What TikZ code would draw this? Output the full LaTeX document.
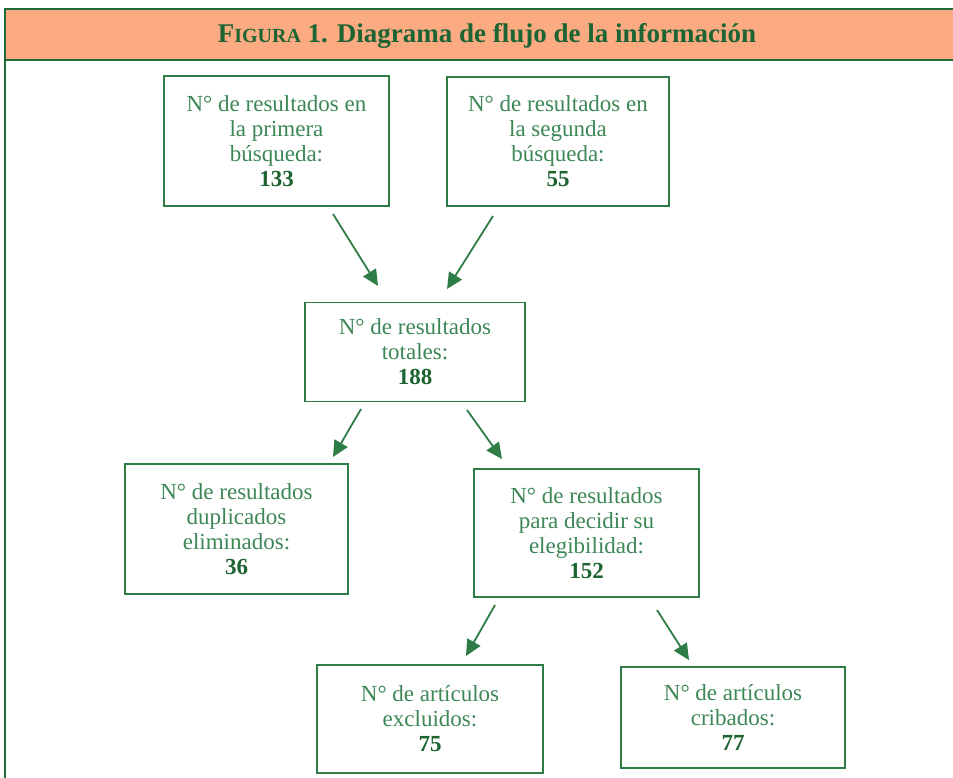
\documentclass[tikz,border=0pt]{standalone}
\usepackage{fontspec}
\setmainfont{Liberation Serif}
\usetikzlibrary{arrows.meta}
\definecolor{framegreen}{RGB}{31,104,56}
\definecolor{titlegreen}{RGB}{28,100,50}
\definecolor{boxgreen}{RGB}{46,125,70}
\definecolor{txtgreen}{RGB}{60,135,85}
\definecolor{numgreen}{RGB}{30,100,50}
\definecolor{barfill}{RGB}{252,170,130}
\tikzset{
  infobox/.style={draw=boxgreen, line width=1.8pt, fill=white, align=center,
    inner sep=0pt, text=txtgreen, font=\fontsize{23}{25}\selectfont},
  flowarrow/.style={draw=boxgreen, line width=1.8pt, -{Triangle[length=16pt,width=15pt]}},
}
\newcommand{\num}[1]{{\bfseries\color{numgreen}#1}}
\newcommand{\fakesc}[1]{{\fontsize{20}{24}\selectfont #1}}
\begin{document}
\begin{tikzpicture}[x=1pt,y=-1pt]
\useasboundingbox (0,0) rectangle (953,778);
% frame and title bar
\fill[barfill] (5,9) rectangle (960,60);
\draw[framegreen, line width=2pt] (5,778) -- (5,9) -- (960,9);
\draw[framegreen, line width=2pt] (5,60) -- (960,60);
\node[text=titlegreen, font=\fontsize{27}{30}\selectfont\bfseries] (title) at (487,36)
  {F\fakesc{IGURA} 1. Diagrama de flujo de la información};
% boxes
\node[infobox, minimum width=225pt, minimum height=130pt] (A) at (276.5,141)
  {N° de resultados en\\la primera\\búsqueda:\\\num{133}};
\node[infobox, minimum width=222pt, minimum height=129pt] (B) at (558,141.5)
  {N° de resultados en\\la segunda\\búsqueda:\\\num{55}};
\node[infobox, minimum width=220pt, minimum height=99pt] (C) at (415,352)
  {N° de resultados\\totales:\\\num{188}};
\node[infobox, minimum width=223pt, minimum height=130pt] (D) at (236.5,529)
  {N° de resultados\\duplicados\\eliminados:\\\num{36}};
\node[infobox, minimum width=225pt, minimum height=128pt] (E) at (586.5,533)
  {N° de resultados\\para decidir su\\elegibilidad:\\\num{152}};
\node[infobox, minimum width=226pt, minimum height=108pt] (F) at (430,719)
  {N° de artículos\\excluidos:\\\num{75}};
\node[infobox, minimum width=224pt, minimum height=101pt] (G) at (733,717.5)
  {N° de artículos\\cribados:\\\num{77}};
% arrow endpoints
\coordinate (a1s) at (333,214); \coordinate (a1e) at (378,286);
\coordinate (a2s) at (493,216); \coordinate (a2e) at (447,289);
\coordinate (a3s) at (361,409); \coordinate (a3e) at (333,457);
\coordinate (a4s) at (467,410); \coordinate (a4e) at (502,459);
\coordinate (a5s) at (495,605); \coordinate (a5e) at (466,656);
\coordinate (a6s) at (657,610); \coordinate (a6e) at (689,660);
\draw[flowarrow] (a1s) -- (a1e);
\draw[flowarrow] (a2s) -- (a2e);
\draw[flowarrow] (a3s) -- (a3e);
\draw[flowarrow] (a4s) -- (a4e);
\draw[flowarrow] (a5s) -- (a5e);
\draw[flowarrow] (a6s) -- (a6e);
\end{tikzpicture}
\end{document}
